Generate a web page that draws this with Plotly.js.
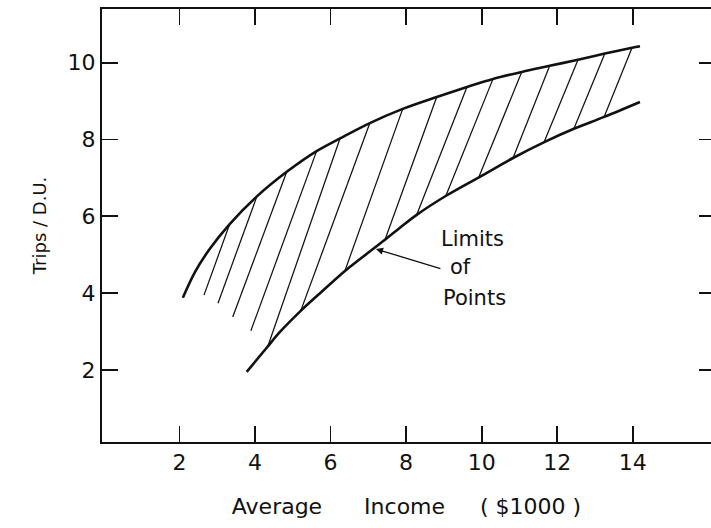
<!DOCTYPE html>
<html>
<head>
<meta charset="utf-8">
<script src="https://cdn.plot.ly/plotly-3.0.1.min.js"></script>
<style>
  html, body { margin: 0; padding: 0; background: #ffffff; overflow: hidden; }
  #chart { width: 711px; height: 528px; }
</style>
</head>
<body>
<div id="chart"></div>
<script>
// Upper limit of points (Average income in $1000, trips per dwelling unit)
const upperX = [2.09, 2.41, 2.80, 3.33, 4.05, 4.84, 5.63, 6.25, 7.04, 7.91, 8.81, 9.61, 10.30, 11.06, 11.80, 12.55, 13.26, 13.98, 14.19];
const upperY = [3.88, 4.55, 5.15, 5.80, 6.52, 7.16, 7.70, 8.03, 8.43, 8.80, 9.11, 9.37, 9.58, 9.76, 9.92, 10.08, 10.24, 10.39, 10.43];

// Lower limit of points
const lowerX = [3.78, 4.31, 4.66, 5.21, 5.72, 6.38, 6.78, 7.44, 7.83, 8.28, 9.08, 9.95, 10.83, 11.67, 12.44, 13.24, 14.19];
const lowerY = [1.95, 2.58, 2.99, 3.54, 4.00, 4.58, 4.89, 5.39, 5.70, 6.04, 6.55, 7.03, 7.52, 7.94, 8.28, 8.59, 8.98];

// Hatch strokes between the limits (top end, bottom end)
const hatchTopX = [3.33, 4.05, 4.84, 5.63, 6.25, 7.04, 7.91, 8.81, 9.61, 10.30, 11.06, 11.80, 12.55, 13.26, 13.98];
const hatchTopY = [5.80, 6.52, 7.16, 7.70, 8.03, 8.43, 8.80, 9.11, 9.37, 9.58, 9.76, 9.92, 10.08, 10.24, 10.39];
const hatchBotX = [2.65, 3.02, 3.41, 3.89, 4.34, 5.21, 6.38, 7.44, 8.28, 9.05, 9.92, 10.83, 11.65, 12.44, 13.24];
const hatchBotY = [3.95, 3.74, 3.38, 3.02, 2.62, 3.54, 4.58, 5.39, 6.04, 6.53, 7.01, 7.52, 7.93, 8.28, 8.59];

// Ticks
const xTicks = [2, 4, 6, 8, 10, 12, 14];
const xTickText = ["2", "4", "6", "8", "10", "12", "14"];
const yTicks = [2, 4, 6, 8, 10];
const yTickText = ["2", "4", "6", "8", "10"];

// Annotation text
const noteLines = ["Limits", "of", "Points"];
const noteX = [9.77, 9.45, 9.80];
const noteY = [5.41, 4.68, 3.87];
const arrowHead = [7.20, 5.15];

const INK = "#111111";
const FONT = "DejaVu Sans, sans-serif";
const SP = "\u00a0";

const hx = [], hy = [];
for (let i = 0; i < hatchTopX.length; i++) {
  hx.push(hatchBotX[i], hatchTopX[i], null);
  hy.push(hatchBotY[i], hatchTopY[i], null);
}

const traces = [
  { x: hx, y: hy, type: "scatter", mode: "lines", line: { color: INK, width: 1.25 }, hoverinfo: "skip", showlegend: false, connectgaps: false },
  { x: upperX, y: upperY, type: "scatter", mode: "lines", line: { color: INK, width: 2.6, shape: "spline", smoothing: 1 }, showlegend: false },
  { x: lowerX, y: lowerY, type: "scatter", mode: "lines", line: { color: INK, width: 2.6, shape: "spline", smoothing: 1 }, showlegend: false },
  { x: [null], y: [null], type: "scatter", mode: "lines", yaxis: "y2", hoverinfo: "skip", showlegend: false }
];

const annotations = noteLines.map((t, i) => ({
  x: noteX[i], y: noteY[i], xref: "x", yref: "y", text: t, showarrow: false,
  font: { family: FONT, size: 21, color: INK }, xanchor: "center", yanchor: "middle"
}));
annotations.push({
  x: arrowHead[0], y: arrowHead[1], xref: "x", yref: "y", text: "",
  showarrow: true, ax: 66, ay: 20, arrowhead: 2, arrowsize: 1.1, arrowwidth: 1.3,
  arrowcolor: INK, standoff: 0
});

const xTitle = "Average" + SP.repeat(6) + "Income" + SP.repeat(5) + "(" + SP + "$1000" + SP + ")";

const layout = {
  width: 711, height: 528,
  margin: { l: 102, r: 0, t: 9, b: 86 },
  paper_bgcolor: "#ffffff", plot_bgcolor: "#ffffff",
  font: { family: FONT, color: INK, size: 22 },
  showlegend: false,
  xaxis: {
    range: [-0.05, 16.07], tickvals: xTicks, ticktext: xTickText,
    ticks: "inside", ticklen: 16, tickwidth: 1.8, tickcolor: INK,
    showline: true, linewidth: 2, linecolor: INK, mirror: "ticks",
    showgrid: false, zeroline: false,
    tickfont: { family: FONT, size: 22, color: INK },
    title: { text: xTitle, font: { family: FONT, size: 22, color: INK }, standoff: 24 }
  },
  yaxis: {
    range: [0.125, 11.40], tickvals: yTicks, ticktext: yTickText,
    ticks: "inside", ticklen: 16, tickwidth: 1.8, tickcolor: INK,
    showline: true, linewidth: 2, linecolor: INK, mirror: false,
    showgrid: false, zeroline: false,
    tickfont: { family: FONT, size: 22, color: INK },
    title: { text: "Trips / D.U.", font: { family: FONT, size: 18, color: INK }, standoff: 16 }
  },
  yaxis2: {
    overlaying: "y", side: "right", range: [0.125, 11.40], tickvals: yTicks,
    ticks: "inside", ticklen: 12, tickwidth: 1.8, tickcolor: INK,
    showline: false, showgrid: false, zeroline: false, showticklabels: false
  },
  annotations: annotations
};

Plotly.newPlot("chart", traces, layout, { staticPlot: true, displayModeBar: false });
</script>
</body>
</html>
